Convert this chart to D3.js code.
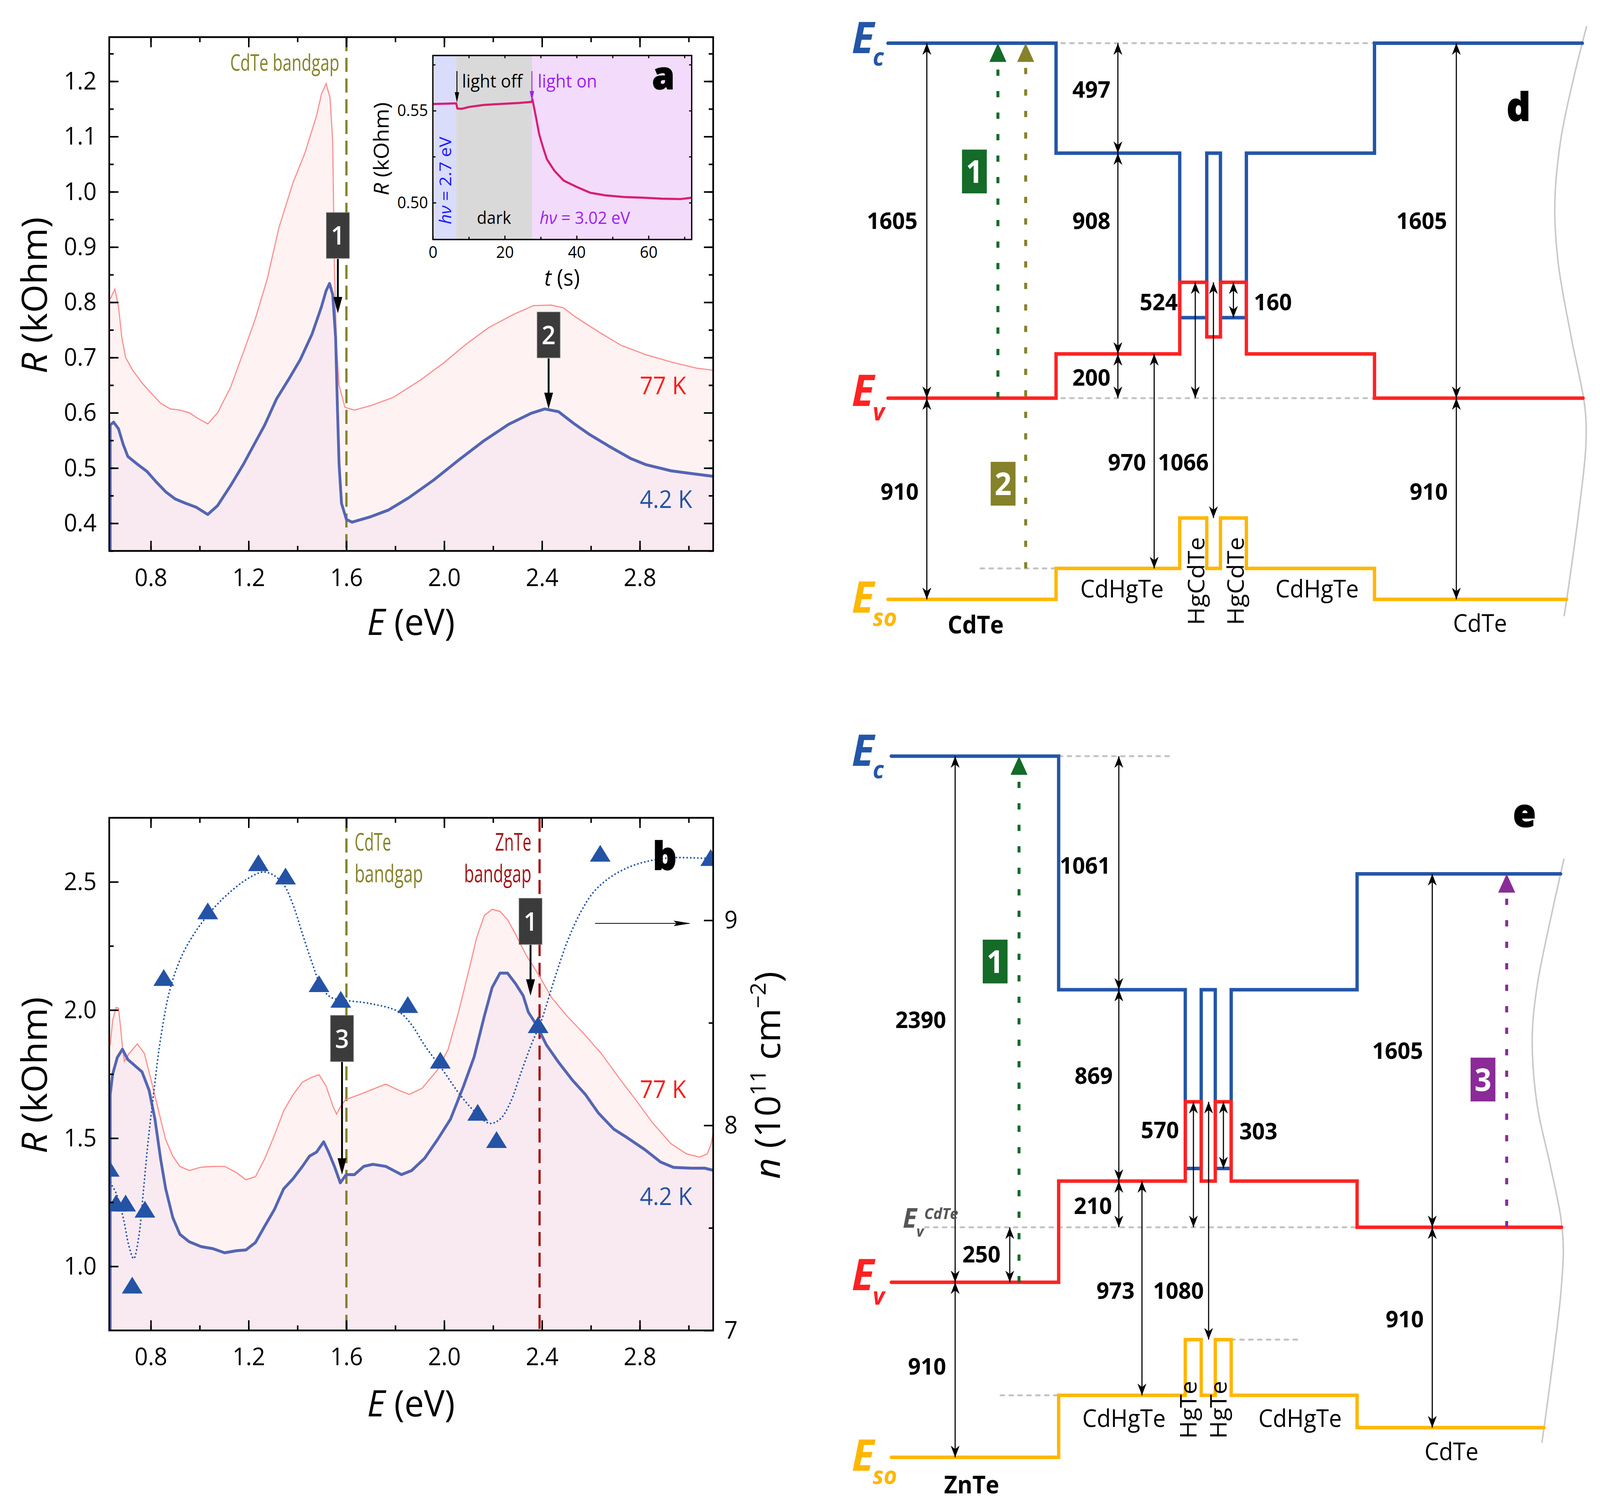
<!DOCTYPE html>
<html>
<head>
<meta charset="utf-8">
<script src="https://cdn.jsdelivr.net/npm/d3@7"></script>
<style>
  html, body { margin: 0; padding: 0; height: 100%; overflow: hidden; background: #fff; }
  svg { display: block; width: 100vw; height: 100vh; }
  text { font-family: "Open Sans", "Noto Sans", sans-serif; }
</style>
</head>
<body>
<svg id="fig"></svg>
<script>
const W = 4321, H = 3862;
const font = '"Open Sans", "Noto Sans", sans-serif';

// ---------- panel a: R(E), 4.2 K and 77 K ----------
const a42 = [[0.634,0.578],[0.648,0.583],[0.668,0.571],[0.687,0.543],[0.706,0.521],[0.745,0.507],[0.784,0.494],
  [0.822,0.475],[0.861,0.457],[0.90,0.444],[0.938,0.437],[0.986,0.429],[1.033,0.416],[1.073,0.432],[1.126,0.468],
  [1.179,0.507],[1.218,0.539],[1.266,0.578],[1.314,0.625],[1.363,0.66],[1.411,0.696],[1.459,0.742],[1.498,0.792],
  [1.517,0.821],[1.531,0.834],[1.544,0.814],[1.556,0.735],[1.563,0.614],[1.57,0.507],[1.58,0.436],[1.60,0.407],
  [1.623,0.402],[1.70,0.412],[1.772,0.424],[1.854,0.446],[1.956,0.478],[2.058,0.514],[2.161,0.549],[2.263,0.579],
  [2.355,0.599],[2.411,0.607],[2.468,0.602],[2.529,0.581],[2.59,0.562],[2.672,0.54],[2.764,0.517],[2.826,0.506],
  [2.928,0.495],[3.03,0.489],[3.1,0.485]];
const a77 = [[0.634,0.806],[0.653,0.824],[0.668,0.792],[0.682,0.735],[0.697,0.70],[0.726,0.677],[0.764,0.654],
  [0.803,0.635],[0.841,0.617],[0.88,0.607],[0.919,0.605],[0.957,0.60],[0.996,0.589],[1.033,0.580],[1.073,0.60],
  [1.126,0.646],[1.179,0.71],[1.228,0.771],[1.276,0.842],[1.324,0.935],[1.382,1.017],[1.43,1.07],[1.478,1.138],
  [1.498,1.177],[1.517,1.196],[1.533,1.17],[1.544,1.09],[1.551,0.863],[1.56,0.72],[1.57,0.65],[1.594,0.61],
  [1.633,0.605],[1.70,0.613],[1.792,0.628],[1.905,0.66],[1.997,0.69],[2.089,0.724],[2.181,0.754],[2.283,0.778],
  [2.365,0.794],[2.437,0.795],[2.488,0.79],[2.529,0.776],[2.58,0.761],[2.652,0.741],[2.724,0.722],[2.826,0.705],
  [2.928,0.692],[3.03,0.681],[3.1,0.677]];

// inset: R(t), light phases (s)
const insetRt = [[0,0.5536],[3,0.5538],[6.5,0.554],[6.8,0.5512],[8,0.551],[10,0.552],[14,0.5531],[20,0.5538],
  [24,0.5542],[27.5,0.5548],[27.7,0.5562],[28.55,0.5478],[29.6,0.537],[30.66,0.530],[31.7,0.5237],[33.8,0.5174],
  [36.4,0.512],[40.1,0.5085],[43.8,0.5054],[48,0.504],[53.2,0.5031],[58.5,0.5027],[63.7,0.5022],[69,0.502],[72,0.5027]];
const insetPhaseT = [0, 6.5, 27.6, 72];

// ---------- panel b: R(E) and carrier density n ----------
const b42 = [[0.634,1.67],[0.644,1.75],[0.663,1.815],[0.684,1.847],[0.706,1.807],[0.735,1.783],[0.764,1.759],
  [0.793,1.687],[0.817,1.574],[0.841,1.414],[0.861,1.302],[0.89,1.19],[0.919,1.125],[0.957,1.096],[1.006,1.077],
  [1.054,1.069],[1.102,1.053],[1.15,1.061],[1.189,1.064],[1.228,1.093],[1.266,1.157],[1.305,1.221],[1.343,1.302],
  [1.382,1.342],[1.42,1.39],[1.449,1.43],[1.478,1.446],[1.507,1.486],[1.527,1.446],[1.551,1.39],[1.575,1.326],
  [1.599,1.358],[1.633,1.358],[1.671,1.39],[1.708,1.398],[1.761,1.39],[1.825,1.358],[1.867,1.374],[1.92,1.422],
  [1.973,1.495],[2.026,1.575],[2.079,1.703],[2.122,1.816],[2.164,1.976],[2.196,2.088],[2.228,2.144],[2.259,2.144],
  [2.291,2.104],[2.323,2.056],[2.344,1.992],[2.376,1.944],[2.418,1.864],[2.471,1.792],[2.524,1.727],[2.577,1.671],
  [2.63,1.599],[2.694,1.535],[2.747,1.503],[2.821,1.455],[2.885,1.407],[2.938,1.386],[3.012,1.383],[3.065,1.383],[3.1,1.375]];
const b77 = [[0.634,1.863],[0.644,1.96],[0.658,2.01],[0.668,2.007],[0.677,1.927],[0.685,1.847],[0.692,1.80],
  [0.711,1.83],[0.745,1.868],[0.774,1.83],[0.803,1.72],[0.832,1.606],[0.861,1.494],[0.89,1.43],[0.919,1.39],
  [0.957,1.374],[1.006,1.387],[1.054,1.39],[1.102,1.39],[1.15,1.366],[1.189,1.338],[1.228,1.35],[1.266,1.42],
  [1.305,1.51],[1.343,1.606],[1.382,1.67],[1.42,1.719],[1.459,1.738],[1.488,1.748],[1.517,1.703],[1.546,1.622],
  [1.56,1.594],[1.575,1.622],[1.596,1.65],[1.655,1.671],[1.761,1.711],[1.814,1.687],[1.857,1.671],[1.91,1.695],
  [1.973,1.767],[2.016,1.847],[2.058,1.99],[2.10,2.152],[2.132,2.28],[2.164,2.369],[2.196,2.393],[2.228,2.385],
  [2.259,2.353],[2.291,2.297],[2.334,2.216],[2.387,2.136],[2.44,2.048],[2.503,1.976],[2.567,1.912],[2.641,1.832],
  [2.715,1.735],[2.779,1.655],[2.853,1.559],[2.927,1.479],[2.991,1.439],[3.044,1.426],[3.076,1.439],[3.092,1.479],[3.1,1.52]];
const bN = [[0.63,7.79],[0.658,7.62],[0.697,7.62],[0.724,7.22],[0.776,7.59],[0.853,8.72],[1.033,9.045],[1.24,9.28],
  [1.351,9.215],[1.488,8.69],[1.577,8.614],[1.851,8.588],[1.984,8.317],[2.137,8.063],[2.214,7.93],[2.384,8.49],
  [2.638,9.326],[3.09,9.305]];
const bNfit = [[0.634,7.72],[0.658,7.67],[0.687,7.55],[0.711,7.41],[0.73,7.35],[0.75,7.45],[0.769,7.67],[0.788,7.91],
  [0.813,8.17],[0.841,8.43],[0.88,8.67],[0.928,8.83],[0.986,8.95],[1.054,9.055],[1.131,9.145],[1.199,9.205],
  [1.256,9.235],[1.295,9.225],[1.343,9.175],[1.382,9.075],[1.42,8.935],[1.459,8.795],[1.498,8.675],[1.536,8.625],
  [1.594,8.61],[1.698,8.594],[1.814,8.554],[1.867,8.49],[1.92,8.39],[1.994,8.27],[2.058,8.16],[2.122,8.07],
  [2.185,8.01],[2.228,8.03],[2.27,8.11],[2.312,8.25],[2.355,8.39],[2.397,8.51],[2.45,8.71],[2.503,8.895],
  [2.556,9.035],[2.609,9.135],[2.673,9.205],[2.747,9.255],[2.821,9.285],[2.927,9.305],[3.1,9.30]];

// tick labels
const eTicks = [0.8, 1.2, 1.6, 2.0, 2.4, 2.8];
const eMinor = [0.8, 1.0, 1.2, 1.4, 1.6, 1.8, 2.0, 2.2, 2.4, 2.6, 2.8, 3.0];
const aRTicks = [0.4, 0.5, 0.6, 0.7, 0.8, 0.9, 1.0, 1.1, 1.2];
const bRTicks = [1.0, 1.5, 2.0, 2.5];
const bNTicks = [7, 8, 9];
const insetTTicks = [0, 20, 40, 60];
const insetRTicks = [0.50, 0.55];
const cdteGap = 1.6, znteGap = 2.39;

// ---------- panels d, e: band edges (meV, CdTe Ev = 0), schematic layer widths ----------
const dWidth = [454, 334, 73, 37, 70, 346, 560];
const dEc  = [1605, 1108, 364, 1108, 364, 1108, 1605];
const dEv  = [0, 200, 524, 277, 524, 200, 0];
const dEso = [-910, -770, -542, -770, -542, -770, -910];
const eWidth = [452, 342, 43, 38, 43, 340, 560];
const eEc  = [2140, 1079, 267, 1079, 267, 1079, 1605];
const eEv  = [-250, 210, 570, 210, 570, 210, 0];
const eEso = [-1045, -763, -510, -763, -510, -763, -910];   // ZnTe Eso as drawn

const C = {
  c77: "#ff8c8c", c42: "#5565b4", fill77: "#fff2f2", fill42: "#f8eaf0",
  olive: "#85822a", zn: "#a31414", tri: "#2453a6", box: "#3b3b3b",
  ec: "#2456a7", ev: "#ff2222", eso: "#ffb700", ref: "#c3c3c3",
  green: "#156b28", purple: "#8a2b98", on: "#9b1ff2", hv: "#1a1aff", red: "#ff1a1a", blue: "#2551a3"
};

const svg = d3.select("#fig").attr("viewBox", `0 0 ${W} ${H}`).attr("preserveAspectRatio", "none");
const defs = svg.append("defs");
svg.append("rect").attr("width", W).attr("height", H).attr("fill", "#fff");

function marker(id, d, len, wid, color, back) {
  defs.append("marker").attr("id", id)
    .attr("markerUnits", "userSpaceOnUse")
    .attr("viewBox", `${-len} ${-wid / 2} ${len + 2} ${wid}`)
    .attr("refX", -(back || 0)).attr("refY", 0)
    .attr("markerWidth", len + 2).attr("markerHeight", wid)
    .attr("orient", "auto-start-reverse")
    .append("path").attr("d", d).attr("fill", color);
}
marker("barb", "M0,0L-30,-12L-21,0L-30,12Z", 30, 24, "#000");
marker("head", "M0,0L-42,-12L-42,12Z", 42, 24, "#000", 12);
marker("thin", "M0,0L-26,-6L-26,6Z", 26, 12, "#000", 6);
marker("thinOn", "M0,0L-26,-6L-26,6Z", 26, 12, C.on, 6);
marker("slim", "M0,0L-46,-7L-38,0L-46,7Z", 46, 14, "#000", 4);
[["tGreen", C.green], ["tOlive", C.olive], ["tPurple", C.purple]].forEach(([id, c]) =>
  marker(id, "M0,0L-48,-23L-48,23Z", 48, 46, c, 48));

function clip(id, x, y) {
  defs.append("clipPath").attr("id", id).append("rect")
    .attr("x", x.range()[0]).attr("y", y.range()[1])
    .attr("width", x.range()[1] - x.range()[0]).attr("height", y.range()[0] - y.range()[1]);
}

function drawTicks(g, axis, vals, len, fmt, pad, fs) {
  g.call(axis.tickValues(vals).tickSize(-len).tickSizeOuter(0)
    .tickPadding(pad || 0).tickFormat(fmt || (() => "")));
  g.select(".domain").remove();
  g.selectAll(".tick line").attr("stroke", "#000").attr("stroke-width", 4);
  g.selectAll(".tick text").attr("font-family", font).attr("font-size", fs || 63).attr("fill", "#000");
}

function frame(g, x, y, w) {
  g.append("rect").attr("x", x.range()[0]).attr("y", y.range()[1])
    .attr("width", x.range()[1] - x.range()[0]).attr("height", y.range()[0] - y.range()[1])
    .attr("fill", "none").attr("stroke", "#000").attr("stroke-width", w);
}

function rich(g, x, y, parts, size, o = {}) {
  const t = g.append("text").attr("x", x).attr("y", y).attr("font-size", size)
    .attr("fill", o.fill || "#000").attr("text-anchor", o.anchor || "start");
  if (o.rot) t.attr("x", 0).attr("y", 0).attr("transform", `translate(${x},${y}) rotate(${o.rot})`);
  if (o.weight) t.attr("font-weight", o.weight);
  parts.forEach(p => {
    const [s, st] = Array.isArray(p) ? p : [p, ""];
    const ts = t.append("tspan").text(s);
    if (st.includes("i")) ts.attr("font-style", "italic");
    if (st.includes("b")) ts.attr("font-weight", "bold");
    if (st.includes("^")) ts.attr("font-size", size * 0.62).attr("dy", -size * 0.42);
    if (st.includes("_")) ts.attr("dy", size * 0.42);
  });
  return t;
}

function numBox(g, cx, cy, label, fill, w, h, fs) {
  g.append("rect").attr("x", cx - w / 2).attr("y", cy - h / 2).attr("width", w).attr("height", h)
    .attr("fill", fill).attr("stroke", "#777").attr("stroke-width", 1.5);
  g.append("text").attr("x", cx).attr("y", cy).attr("dy", "0.36em").attr("text-anchor", "middle")
    .attr("fill", "#fff").attr("font-size", fs).attr("font-weight", 600).text(label);
}

// =================== panel a ===================
const gA = svg.append("g");
const xA = d3.scaleLinear().domain([0.63, 3.1]).range([295, 1926]);
const yA = d3.scaleLinear().domain([0.35, 1.28]).range([1410, 95]);
clip("clipA", xA, yA);
const pA = gA.append("g").attr("clip-path", "url(#clipA)");
const areaA = d3.area().x(d => xA(d[0])).y0(yA.range()[0]).y1(d => yA(d[1]));
const lineA = d3.line().x(d => xA(d[0])).y(d => yA(d[1]));
pA.append("path").datum(a77).attr("d", areaA).attr("fill", C.fill77);
pA.append("path").datum(a42).attr("d", areaA).attr("fill", C.fill42);
pA.append("line").attr("x1", xA(cdteGap)).attr("x2", xA(cdteGap)).attr("y1", yA.range()[1]).attr("y2", yA.range()[0])
  .attr("stroke", C.olive).attr("stroke-width", 6).attr("stroke-dasharray", "36 17");
pA.append("path").datum(a77).attr("d", lineA).attr("fill", "none").attr("stroke", C.c77).attr("stroke-width", 3);
pA.append("path").datum([[a42[0][0], yA.domain()[0]], ...a42]).attr("d", lineA)
  .attr("fill", "none").attr("stroke", C.c42).attr("stroke-width", 7.5).attr("stroke-linejoin", "round");

drawTicks(gA.append("g").attr("transform", "translate(0,1410)"), d3.axisBottom(xA), eTicks, 26, d3.format(".1f"), 45);
drawTicks(gA.append("g").attr("transform", "translate(0,1410)"), d3.axisBottom(xA), eMinor, 13);
drawTicks(gA.append("g").attr("transform", "translate(0,95)"), d3.axisTop(xA), eTicks, 26);
drawTicks(gA.append("g").attr("transform", "translate(0,95)"), d3.axisTop(xA), eMinor, 13);
drawTicks(gA.append("g").attr("transform", "translate(295,0)"), d3.axisLeft(yA), aRTicks, 25, d3.format(".1f"), 34);
drawTicks(gA.append("g").attr("transform", "translate(295,0)"), d3.axisLeft(yA), d3.range(0.35, 1.28, 0.05), 12);
drawTicks(gA.append("g").attr("transform", "translate(1926,0)"), d3.axisRight(yA), aRTicks, 25);
drawTicks(gA.append("g").attr("transform", "translate(1926,0)"), d3.axisRight(yA), d3.range(0.35, 1.28, 0.05), 12);
frame(gA, xA, yA, 4.5);

rich(gA, 127, 756, [["R", "i"], " (kOhm)"], 94, { anchor: "middle", rot: -90 });
rich(gA, 1110, 1625, [["E", "i"], " (eV)"], 94, { anchor: "middle" });
gA.append("text").attr("x", xA(cdteGap) - 19).attr("y", 181).attr("text-anchor", "end")
  .attr("font-size", 58).attr("fill", C.olive).attr("textLength", 295).attr("lengthAdjust", "spacingAndGlyphs")
  .text("CdTe bandgap");
gA.append("text").attr("x", 1728).attr("y", 1009).attr("font-size", 62).attr("fill", C.red).text("77 K");
gA.append("text").attr("x", 1728).attr("y", 1300).attr("font-size", 62).attr("fill", C.blue).text("4.2 K");

[{ t: "1", E: 1.565, R: 0.921, tip: 0.78 }, { t: "2", E: 2.427, R: 0.741, tip: 0.607 }].forEach(b => {
  const cx = xA(b.E), cy = yA(b.R);
  gA.append("line").attr("x1", cx).attr("x2", cx).attr("y1", cy + 60).attr("y2", yA(b.tip) - 12)
    .attr("stroke", "#000").attr("stroke-width", 5).attr("marker-end", "url(#head)");
  numBox(gA, cx, cy, b.t, C.box, 62, 117, 66);
});

// ---- inset ----
const gI = svg.append("g");
const xI = d3.scaleLinear().domain([0, 72]).range([1169, 1868]);
const yI = d3.scaleLinear().domain([0.48, 0.58]).range([613, 142]);
const phaseFill = ["#dadcfb", "#d9d9d9", "#f2dbfb"];
phaseFill.forEach((f, i) => gI.append("rect").attr("x", xI(insetPhaseT[i])).attr("y", yI.range()[1])
  .attr("width", xI(insetPhaseT[i + 1]) - xI(insetPhaseT[i])).attr("height", yI.range()[0] - yI.range()[1]).attr("fill", f));
gI.append("path").datum(insetRt).attr("d", d3.line().x(d => xI(d[0])).y(d => yI(d[1])))
  .attr("fill", "none").attr("stroke", "#d81e73").attr("stroke-width", 5.5).attr("stroke-linejoin", "round");
drawTicks(gI.append("g").attr("transform", "translate(0,613)"), d3.axisBottom(xI), insetTTicks, 10, d3.format("d"), 17, 42);
drawTicks(gI.append("g").attr("transform", "translate(0,613)"), d3.axisBottom(xI), [10, 30, 50, 70], 7);
drawTicks(gI.append("g").attr("transform", "translate(0,142)"), d3.axisTop(xI), [0, 10, 20, 30, 40, 50, 60, 70], 7);
drawTicks(gI.append("g").attr("transform", "translate(1169,0)"), d3.axisLeft(yI), insetRTicks, 9, d3.format(".2f"), 13, 42);
drawTicks(gI.append("g").attr("transform", "translate(1169,0)"), d3.axisLeft(yI), [0.525, 0.575], 7);
drawTicks(gI.append("g").attr("transform", "translate(1868,0)"), d3.axisRight(yI), [0.50, 0.525, 0.55, 0.575], 7);
gI.selectAll(".tick line").attr("stroke-width", 3);
frame(gI, xI, yI, 3.5);
gI.append("line").attr("x1", xI(6.7)).attr("x2", xI(6.7)).attr("y1", yI(0.5715)).attr("y2", yI(0.5558))
  .attr("stroke", "#000").attr("stroke-width", 2.5).attr("marker-end", "url(#thin)");
gI.append("line").attr("x1", xI(27.55)).attr("x2", xI(27.55)).attr("y1", yI(0.5715)).attr("y2", yI(0.5565))
  .attr("stroke", C.on).attr("stroke-width", 2.5).attr("marker-end", "url(#thinOn)");
gI.append("text").attr("x", xI(8.1)).attr("y", 224).attr("font-size", 46).text("light off");
gI.append("text").attr("x", xI(29.15)).attr("y", 224).attr("font-size", 46).attr("fill", C.on).text("light on");
gI.append("text").attr("x", xI(17)).attr("y", 573).attr("font-size", 44).attr("text-anchor", "middle").text("dark");
rich(gI, xI(29.7), 573, [["hν", "i"], " = 3.02 eV"], 44, { fill: C.on });
rich(gI, 1218, 462, [["hν", "i"], " = 2.7 eV"], 45, { fill: C.hv, anchor: "middle", rot: -90 });
gI.append("text").attr("x", 1761).attr("y", 228).attr("font-size", 98).attr("font-weight", 900)
  .attr("stroke", "#000").attr("stroke-width", 2).text("a");
rich(gI, 1050, 381, [["R", "i"], " (kOhm)"], 56, { anchor: "middle", rot: -90 });
rich(gI, 1518, 731, [["t", "i"], " (s)"], 58, { anchor: "middle" });

// =================== panel b ===================
const gB = svg.append("g");
const xB = d3.scaleLinear().domain([0.63, 3.1]).range([295, 1926]);
const yB = d3.scaleLinear().domain([0.75, 2.75]).range([3405, 2093]);
const nB = d3.scaleLinear().domain([7, 9.5]).range([3405, 2093]);
clip("clipB", xB, yB);
const pB = gB.append("g").attr("clip-path", "url(#clipB)");
const areaB = d3.area().x(d => xB(d[0])).y0(yB.range()[0]).y1(d => yB(d[1]));
const lineB = d3.line().x(d => xB(d[0])).y(d => yB(d[1]));
pB.append("path").datum(b77).attr("d", areaB).attr("fill", C.fill77);
pB.append("path").datum(b42).attr("d", areaB).attr("fill", C.fill42);
[[cdteGap, C.olive], [znteGap, C.zn]].forEach(([e, c]) =>
  pB.append("line").attr("x1", xB(e)).attr("x2", xB(e)).attr("y1", yB.range()[1]).attr("y2", yB.range()[0])
    .attr("stroke", c).attr("stroke-width", 6).attr("stroke-dasharray", "36 17"));
pB.append("path").datum(b77).attr("d", lineB).attr("fill", "none").attr("stroke", C.c77).attr("stroke-width", 3);
pB.append("path").datum([[b42[0][0], yB.domain()[0]], ...b42]).attr("d", lineB)
  .attr("fill", "none").attr("stroke", C.c42).attr("stroke-width", 7.5).attr("stroke-linejoin", "round");
pB.append("path").datum(bNfit).attr("d", d3.line().curve(d3.curveCatmullRom).x(d => xB(d[0])).y(d => nB(d[1])))
  .attr("fill", "none").attr("stroke", C.tri).attr("stroke-width", 4.5)
  .attr("stroke-dasharray", "0.1 9.5").attr("stroke-linecap", "round");
const triSym = { draw(ctx) { ctx.moveTo(0, -22); ctx.lineTo(28, 21); ctx.lineTo(-28, 21); ctx.closePath(); } };
pB.selectAll(".tri").data(bN).join("path").attr("class", "tri")
  .attr("transform", d => `translate(${xB(d[0])},${nB(d[1])})`)
  .attr("d", d3.symbol(triSym)).attr("fill", C.tri);

drawTicks(gB.append("g").attr("transform", "translate(0,3405)"), d3.axisBottom(xB), eTicks, 26, d3.format(".1f"), 44);
drawTicks(gB.append("g").attr("transform", "translate(0,3405)"), d3.axisBottom(xB), eMinor, 13);
drawTicks(gB.append("g").attr("transform", "translate(0,2093)"), d3.axisTop(xB), eTicks, 26);
drawTicks(gB.append("g").attr("transform", "translate(0,2093)"), d3.axisTop(xB), eMinor, 13);
drawTicks(gB.append("g").attr("transform", "translate(295,0)"), d3.axisLeft(yB), bRTicks, 25, d3.format(".1f"), 34);
drawTicks(gB.append("g").attr("transform", "translate(295,0)"), d3.axisLeft(yB), [1.25, 1.75, 2.25], 12);
drawTicks(gB.append("g").attr("transform", "translate(1926,0)"), d3.axisRight(nB), bNTicks, 25, d3.format("d"), 30);
drawTicks(gB.append("g").attr("transform", "translate(1926,0)"), d3.axisRight(nB), [7.5, 8.5], 12);
frame(gB, xB, yB, 4.5);

rich(gB, 127, 2752, [["R", "i"], " (kOhm)"], 94, { anchor: "middle", rot: -90 });
rich(gB, 1110, 3625, [["E", "i"], " (eV)"], 94, { anchor: "middle" });
rich(gB, 2107, 2752, [["n", "i"], " (10", ["11", "^"], [" cm", "_"], ["−2", "^"], [")", "_"]], 94, { anchor: "middle", rot: -90 });

const gapTxt = (x, y, s, len, c, anchor) => gB.append("text").attr("x", x).attr("y", y).attr("font-size", 62)
  .attr("fill", c).attr("text-anchor", anchor).attr("textLength", len).attr("lengthAdjust", "spacingAndGlyphs").text(s);
gapTxt(xB(cdteGap) + 22, 2177, "CdTe", 99, C.olive, "start");
gapTxt(xB(cdteGap) + 22, 2258, "bandgap", 185, C.olive, "start");
gapTxt(xB(znteGap) - 22, 2177, "ZnTe", 98, C.zn, "end");
gapTxt(xB(znteGap) - 22, 2258, "bandgap", 182, C.zn, "end");
gB.append("text").attr("x", 1728).attr("y", 2810).attr("font-size", 62).attr("fill", C.red).text("77 K");
gB.append("text").attr("x", 1728).attr("y", 3084).attr("font-size", 62).attr("fill", C.blue).text("4.2 K");
gB.append("text").attr("x", 1763).attr("y", 2226).attr("font-size", 100).attr("font-weight", 900)
  .attr("stroke", "#000").attr("stroke-width", 2).text("b");
gB.append("line").attr("x1", xB(2.617)).attr("x2", xB(3.002)).attr("y1", nB(8.985)).attr("y2", nB(8.985))
  .attr("stroke", "#000").attr("stroke-width", 2).attr("marker-end", "url(#slim)");
[{ t: "1", E: 2.353, R: 2.346, tip: 2.056 }, { t: "3", E: 1.582, R: 1.889, tip: 1.358 }].forEach(b => {
  const cx = xB(b.E), cy = yB(b.R);
  gB.append("line").attr("x1", cx).attr("x2", cx).attr("y1", cy + 60).attr("y2", yB(b.tip) - 12)
    .attr("stroke", "#000").attr("stroke-width", 5).attr("marker-end", "url(#head)");
  numBox(gB, cx, cy, b.t, C.box, 62, 118, 66);
});

// =================== band diagrams ===================
function waveX(wave, v) {
  for (let i = 0; i < wave.length - 1; i++) {
    const [x1, e1] = wave[i], [x2, e2] = wave[i + 1];
    if ((v - e1) * (v - e2) <= 0) return x1 + (x2 - x1) * (v - e1) / (e2 - e1);
  }
  return wave[wave.length - 1][0];
}

function bandPanel(P) {
  const g = svg.append("g");
  const bounds = [0, ...d3.cumsum(P.width)];
  const total = bounds[bounds.length - 1];
  const x = d3.scaleLinear().domain([0, total]).range([P.x0, P.x0 + total]);
  const y = d3.scaleLinear().domain([0, 1605]).range([P.yEv, P.yEc]);
  const line = d3.line().x(d => x(d[0])).y(d => y(d[1]));

  g.append("path").datum(P.wave).attr("d", d3.line().curve(d3.curveCatmullRom).x(d => x(d[0])).y(d => y(d[1])))
    .attr("fill", "none").attr("stroke", "#c8c8c8").attr("stroke-width", 4);
  P.refs.forEach(r => g.append("line").attr("x1", x(r[1])).attr("x2", x(r[2])).attr("y1", y(r[0])).attr("y2", y(r[0]))
    .attr("stroke", C.ref).attr("stroke-width", 5).attr("stroke-dasharray", "10 14").attr("stroke-linecap", "round"));

  const pts = vals => vals.flatMap((v, i) =>
    [[bounds[i], v], [i === vals.length - 1 ? waveX(P.wave, v) : bounds[i + 1], v]]);
  [[P.Eso, C.eso], [P.Ec, C.ec], [P.Ev, C.ev]].forEach(([vals, c]) =>
    g.append("path").datum(pts(vals)).attr("d", line).attr("fill", "none").attr("stroke", c)
      .attr("stroke-width", 9).attr("stroke-linecap", "round").attr("stroke-linejoin", "miter"));

  P.arrows.forEach(a => g.append("line").attr("x1", x(a[0])).attr("x2", x(a[0])).attr("y1", y(a[1])).attr("y2", y(a[2]))
    .attr("stroke", "#000").attr("stroke-width", 3).attr("marker-start", "url(#barb)").attr("marker-end", "url(#barb)"));
  P.labels.forEach(l => g.append("text").attr("x", x(l[1])).attr("y", y(l[2])).attr("dy", "0.36em")
    .attr("text-anchor", l[3]).attr("font-size", 60).attr("font-weight", "bold").text(l[0]));

  P.trans.forEach(t => g.append("line").attr("x1", x(t.u)).attr("x2", x(t.u)).attr("y1", y(t.e0)).attr("y2", y(t.e1) + 48)
    .attr("stroke", t.c).attr("stroke-width", 8).attr("stroke-dasharray", "16 39").attr("marker-end", `url(#${t.mk})`));
  P.boxes.forEach(b => {
    g.append("rect").attr("x", x(b.u) - 33.5).attr("y", y(b.e) - 56).attr("width", 67).attr("height", 112).attr("fill", b.c);
    g.append("text").attr("x", x(b.u)).attr("y", y(b.e)).attr("dy", "0.36em").attr("text-anchor", "middle")
      .attr("fill", "#fff").attr("font-size", 80).attr("font-weight", "bold").text(b.t);
  });

  P.names.forEach(n => {
    const t = g.append("text").attr("font-size", 62).attr("text-anchor", "middle").text(n[0]);
    if (n[3]) t.attr("font-weight", "bold");
    if (n[4]) t.attr("transform", `translate(${x(n[1])},${y(n[2])}) rotate(-90)`);
    else t.attr("x", x(n[1])).attr("y", y(n[2]));
  });

  const edge = (lvl, main, sub, c, d1, d2) => {
    g.append("text").attr("x", 2300).attr("y", y(lvl) + d1).attr("font-size", 112).attr("font-weight", "bold")
      .attr("font-style", "italic").attr("fill", c).text(main);
    g.append("text").attr("x", 2357).attr("y", y(lvl) + d2).attr("font-size", 62).attr("font-weight", "bold")
      .attr("font-style", "italic").attr("fill", c).text(sub);
  };
  edge(P.Ec[0], "E", "c", C.ec, 25, 57);
  edge(P.Ev[0], "E", "v", C.ev, 20, 57);
  edge(P.Eso[0], "E", "so", C.eso, 34, 68);

  g.append("text").attr("x", P.letter[0]).attr("y", P.letter[1]).attr("font-size", 100).attr("font-weight", 900)
    .attr("stroke", "#000").attr("stroke-width", 2).text(P.letter[2]);
  return { g, x, y };
}

bandPanel({
  x0: 2398, yEv: 1019, yEc: 110.6, width: dWidth, Ec: dEc, Ev: dEv, Eso: dEso,
  wave: [[1887,1682],[1853,1456],[1817,1168],[1801,882],[1810,613],[1846,269],[1882,-39],[1885,-210],[1867,-498],[1839,-843],[1826,-986]],
  refs: [[1605, 468, 1314], [0, 468, 1314], [-770, 250, 450]],
  arrows: [[105,1605,0],[105,0,-910],[621,1605,1108],[621,1108,200],[621,200,0],[719,200,-770],[830,524,0],
    [879,524,-542],[933,524,364],[1535,1605,0],[1535,0,-910]],
  labels: [["1605",80,804,"end"],["910",83,-422,"end"],["497",601,1397,"end"],["908",601,804,"end"],["200",601,95,"end"],
    ["970",697,-288,"end"],["1066",729,-288,"start"],["524",783,436,"end"],["160",988,436,"start"],
    ["1605",1510,804,"end"],["910",1512,-422,"end"]],
  trans: [{ u: 297, e0: 0, e1: 1605, c: C.green, mk: "tGreen" }, { u: 372, e0: -770, e1: 1605, c: C.olive, mk: "tOlive" }],
  boxes: [{ t: "1", u: 233.5, e: 1025, c: C.green }, { t: "2", u: 311, e: -387, c: C.olive }],
  names: [["CdTe",237,-1064,1,0],["CdHgTe",632,-901,0,0],["HgCdTe",854,-827,0,1],["HgCdTe",961,-827,0,1],
    ["CdHgTe",1159,-901,0,0],["CdTe",1599,-1057,0,0]],
  letter: [4069, 309, "d"]
});

const pe = bandPanel({
  x0: 2407, yEv: 3141, yEc: 2236.6, width: eWidth, Ec: eEc, Ev: eEv, Eso: eEso,
  wave: [[1817,1675],[1780,1396],[1744,1094],[1731,860],[1744,558],[1780,279],[1808,46],[1815,-94],[1808,-303],[1787,-605],[1765,-885],[1757,-979]],
  refs: [[2140, 452, 760], [0, 91, 1258], [-763, 295, 452], [-510, 918, 1107]],
  arrows: [[172.5,2140,-250],[172.5,-250,-1045],[320,0,-250],[614.5,2140,1079],[614.5,1079,210],[614.5,210,0],
    [677,210,-763],[816,570,0],[857,570,-510],[897,570,267],[1461,1605,0],[1461,0,-910]],
  labels: [["2390",148,944,"end"],["910",148,-631,"end"],["250",295,-122,"end"],["1061",592,1645,"end"],
    ["869",598,689,"end"],["210",596,98,"end"],["973",657,-286,"end"],["1080",707,-286,"start"],
    ["570",777,443,"end"],["303",940,438,"start"],["1605",1436,804,"end"],["910",1438,-416,"end"]],
  trans: [{ u: 345, e0: -250, e1: 2140, c: C.green, mk: "tGreen" }, { u: 1662, e0: 0, e1: 1605, c: C.purple, mk: "tPurple" }],
  boxes: [{ t: "1", u: 280.5, e: 1207, c: C.green }, { t: "3", u: 1598, e: 671, c: C.purple }],
  names: [["ZnTe",217,-1208,1,0],["CdHgTe",628.5,-906,0,0],["HgTe",824,-829,0,1],["HgTe",906,-829,0,1],
    ["CdHgTe",1104,-906,0,0],["CdTe",1513,-1058,0,0]],
  letter: [4086, 2116, "e"]
});
// E_v^CdTe reference label
const yRef = pe.y(0);
pe.g.append("text").attr("x", 2438).attr("y", yRef + 1).attr("font-size", 70).attr("font-weight", "bold")
  .attr("font-style", "italic").attr("fill", "#555").text("E");
pe.g.append("text").attr("x", 2475).attr("y", yRef + 24).attr("font-size", 38).attr("font-weight", "bold")
  .attr("font-style", "italic").attr("fill", "#555").text("v");
pe.g.append("text").attr("x", 2496).attr("y", yRef - 21).attr("font-size", 40).attr("font-weight", "bold")
  .attr("font-style", "italic").attr("fill", "#555").text("CdTe");
</script>
</body>
</html>
